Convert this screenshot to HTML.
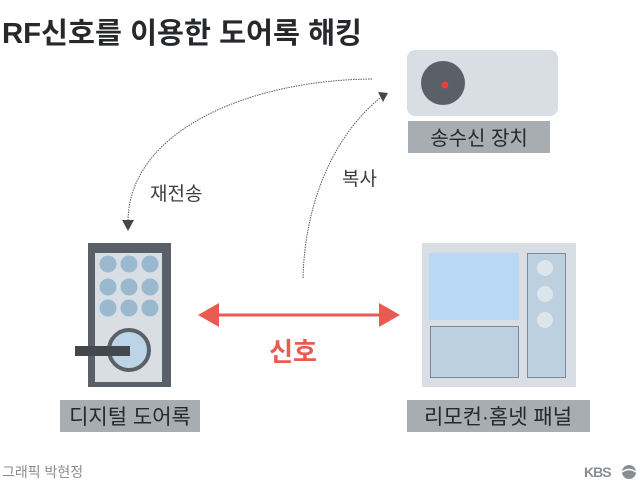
<!DOCTYPE html>
<html><head><meta charset="utf-8"><style>
html,body{margin:0;padding:0;background:#fff;}
svg{display:block;}
text{font-family:"Liberation Sans","Noto Sans CJK KR",sans-serif;}
</style></head><body>
<svg width="640" height="496" viewBox="0 0 640 496" xmlns="http://www.w3.org/2000/svg">
<text x="2" y="43" font-size="29" font-weight="bold" fill="#26282b" textLength="360" lengthAdjust="spacingAndGlyphs">RF신호를 이용한 도어록 해킹</text>

<!-- transmitter -->
<rect x="407" y="50" width="151" height="66" rx="8" fill="#d8dee4"/>
<circle cx="443" cy="83" r="22" fill="#5a6068"/>
<circle cx="445" cy="85" r="3.5" fill="#f03c3c"/>
<rect x="408" y="121" width="142" height="32" fill="#a7adb3"/>
<text x="479" y="145" font-size="20" fill="#26282b" text-anchor="middle">송수신 장치</text>

<!-- curves -->
<path d="M372,79 C250,80 130,130 128,220" fill="none" stroke="#555a60" stroke-width="1" stroke-dasharray="1.5,1"/>
<polygon points="122,220 134,220 128,231" fill="#43484e"/>
<path d="M303,278 C305,200 335,135 380,98" fill="none" stroke="#555a60" stroke-width="1" stroke-dasharray="1.5,1"/>
<polygon points="378,92 388,93 383,102" fill="#43484e"/>
<text x="150" y="200" font-size="19" fill="#3a3e44">재전송</text>
<text x="342" y="185" font-size="19" fill="#3a3e44">복사</text>

<!-- lock -->
<rect x="88" y="243" width="83" height="144" fill="#5a6068"/>
<rect x="95" y="253" width="67" height="129" fill="#d8dee4"/>
<g fill="#9ab8ce">
<circle cx="108" cy="264" r="8.5"/><circle cx="129" cy="264" r="8.5"/><circle cx="150" cy="264" r="8.5"/>
<circle cx="108" cy="287" r="8.5"/><circle cx="129" cy="287" r="8.5"/><circle cx="150" cy="287" r="8.5"/>
<circle cx="108" cy="308" r="8.5"/><circle cx="129" cy="308" r="8.5"/><circle cx="150" cy="308" r="8.5"/>
</g>
<circle cx="129" cy="350" r="20" fill="#bcd4e6" stroke="#5a6068" stroke-width="4"/>
<rect x="75" y="346" width="55" height="10" fill="#43484e"/>
<rect x="60" y="400" width="140" height="32" fill="#a7adb3"/>
<text x="130" y="424" font-size="21" fill="#26282b" text-anchor="middle">디지털 도어록</text>

<!-- signal arrow -->
<line x1="215" y1="315" x2="382" y2="315" stroke="#ea5a50" stroke-width="3"/>
<polygon points="198,315 219,303 219,327" fill="#ea5a50"/>
<polygon points="400,315 379,303 379,327" fill="#ea5a50"/>
<text x="293" y="361" font-size="26" font-weight="bold" fill="#ea5a50" text-anchor="middle">신호</text>

<!-- panel -->
<rect x="422" y="243" width="154" height="144" fill="#d8dee4"/>
<rect x="429" y="253" width="90" height="67" fill="#b8d8f4"/>
<rect x="430.5" y="326.5" width="88" height="51" fill="#bcd0e0" stroke="#7a8a9a" stroke-width="1"/>
<rect x="527.5" y="253.5" width="38" height="124" fill="#bcd0e0" stroke="#7a8a9a" stroke-width="1"/>
<g fill="#dde5ec"><circle cx="545" cy="268" r="8"/><circle cx="545" cy="294" r="8"/><circle cx="545" cy="320" r="8"/></g>
<rect x="407" y="400" width="183" height="32" fill="#a7adb3"/>
<text x="498" y="424" font-size="21" fill="#26282b" text-anchor="middle">리모컨·홈넷 패널</text>

<!-- footer -->
<text x="2" y="477" font-size="14" fill="#8a8e93">그래픽 박현정</text>
<text x="584" y="477" font-size="14" font-weight="bold" fill="#8a8e93" letter-spacing="-1">KBS</text>
<circle cx="629" cy="472" r="7" fill="#8a8e93"/>
<path d="M622,472 Q629,467 636,472" stroke="#fff" stroke-width="1.5" fill="none"/>
</svg>
</body></html>
